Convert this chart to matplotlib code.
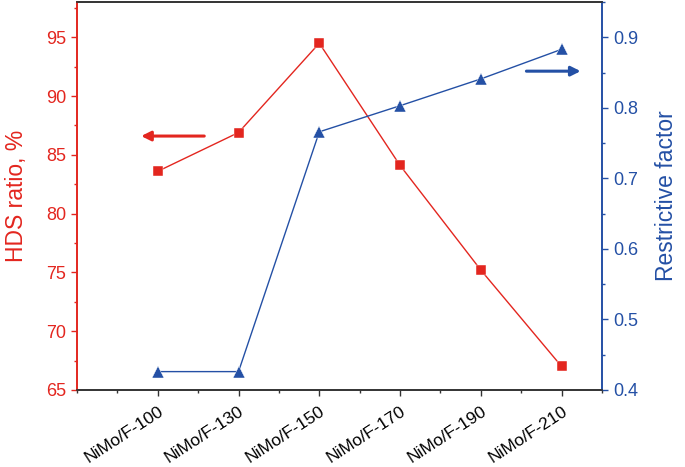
import matplotlib.pyplot as plt
from matplotlib.ticker import MultipleLocator

plt.rcParams['font.family'] = ['Liberation Sans', 'DejaVu Sans']

# data
samples = ['NiMo/F-100', 'NiMo/F-130', 'NiMo/F-150', 'NiMo/F-170', 'NiMo/F-190', 'NiMo/F-210']
hds_ratio = [83.6, 86.9, 94.5, 84.1, 75.2, 67.0]
restrictive = [0.426, 0.426, 0.766, 0.803, 0.841, 0.883]

RED = '#e3261f'
BLUE = '#2450a5'

x = list(range(1, len(samples) + 1))

fig = plt.figure(figsize=(6.85, 4.67), dpi=100)
ax = fig.add_axes([0.1124, 0.165, 0.7664, 0.8306])
ax2 = ax.twinx()

ax.plot(x, hds_ratio, '-s', color=RED, lw=1.0, ms=6.5, mec='white', mew=0.3, zorder=3)
ax2.plot(x, restrictive, '-^', color=BLUE, lw=1.0, ms=8, mec='white', mew=0.3, zorder=3)

ax.set_xlim(0, 6.5)
ax.set_ylim(65, 98)
ax2.set_ylim(0.4, 0.95)

ax.set_xticks(x)
ax.set_xticklabels(samples, rotation=33, ha='right', va='top', rotation_mode='anchor')
ax.xaxis.set_minor_locator(MultipleLocator(0.5))
ax.yaxis.set_major_locator(MultipleLocator(5))
ax.yaxis.set_minor_locator(MultipleLocator(2.5))
ax2.yaxis.set_major_locator(MultipleLocator(0.1))
ax2.yaxis.set_minor_locator(MultipleLocator(0.05))
ax2.yaxis.set_major_formatter(plt.FormatStrFormatter('%.1f'))

ax.tick_params(axis='x', which='major', length=4.5, width=1, colors='#333333',
               labelcolor='black', labelsize=12.5, pad=5)
ax.tick_params(axis='x', which='minor', length=2.5, width=1, colors='#333333')
ax.tick_params(axis='y', which='major', length=4.5, width=1, colors=RED, labelsize=13)
ax.tick_params(axis='y', which='minor', length=2.5, width=1, colors=RED)
ax2.tick_params(axis='y', which='major', length=4.5, width=1, colors=BLUE, labelsize=13)
ax2.tick_params(axis='y', which='minor', length=2.5, width=1, colors=BLUE)

for a in (ax, ax2):
    a.spines['top'].set_color('#333333')
    a.spines['bottom'].set_color('#333333')
    a.spines['left'].set_color(RED)
    a.spines['right'].set_color(BLUE)
    for s in a.spines.values():
        s.set_linewidth(1.2)

ax.set_ylabel('HDS ratio, %', color=RED, fontsize=16.5, labelpad=13)
ax2.set_ylabel('Restrictive factor', color=BLUE, fontsize=16.5, labelpad=12)

# direction arrows
ax.annotate('', xy=(0.76, 86.6), xytext=(1.61, 86.6),
            arrowprops=dict(arrowstyle='-|>', color=RED, lw=2.2, mutation_scale=14))
ax2.annotate('', xy=(6.27, 0.852), xytext=(5.53, 0.852),
             arrowprops=dict(arrowstyle='-|>', color=BLUE, lw=2.2, mutation_scale=14))

fig.savefig('out.png', dpi=100)
